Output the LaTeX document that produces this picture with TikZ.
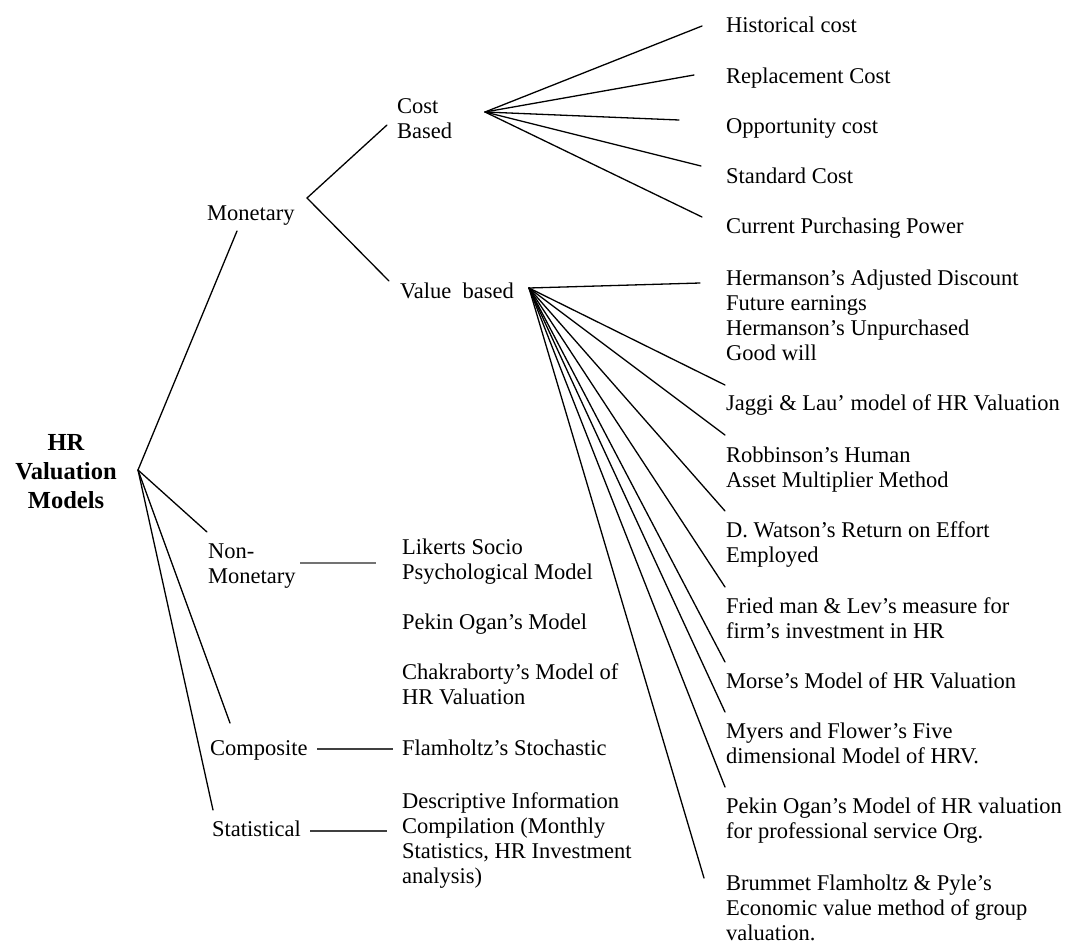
\documentclass[tikz,border=0pt]{standalone}
\usepackage{fontspec}
\setmainfont{Liberation Serif}
\begin{document}
\begin{tikzpicture}[x=1pt,y=-1pt,
  % multi-line labels are placed by the baseline of their last line
  lbl/.style={anchor=base west, inner sep=0pt, align=left,
    font=\fontsize{22.5}{25}\selectfont},
  rootlbl/.style={anchor=base, inner sep=0pt, align=center,
    font=\fontsize{24.5}{29}\selectfont\bfseries},
  link/.style={line width=1.3pt, line cap=round},
  tie/.style={line width=1.1pt, black!75},
  lighttie/.style={line width=1.1pt, black!55}]
\useasboundingbox (0,0) rectangle (1067,940);

% ---- root ----
\node[rootlbl] (root) at (66,508) {HR\\Valuation\\Models};
\coordinate (r0) at (138,470);

% ---- first level ----
\node[lbl] (mon)    at (207,220) {Monetary};
\node[lbl] (nonmon) at (208,583) {Non-\\Monetary};
\node[lbl] (comp)   at (210,755) {Composite};
\node[lbl] (stat)   at (212,836) {Statistical};

\coordinate (mon-in)    at (237,231);
\coordinate (nonmon-in) at (207,532);
\coordinate (comp-in)   at (230,723);
\coordinate (stat-in)   at (213,810);

\draw[link] (r0) -- (mon-in);
\draw[link] (r0) -- (nonmon-in);
\draw[link] (r0) -- (comp-in);
\draw[link] (r0) -- (stat-in);

% ---- monetary split ----
\coordinate (m0) at (307,198);
\node[lbl] (cost)  at (397,138) {Cost\\Based};
\node[lbl] (value) at (400,298) {Value\ \ based};
\coordinate (cost-in)  at (387,125);
\coordinate (value-in) at (389,281);
\draw[link] (cost-in) -- (m0) -- (value-in);

% ---- cost based models ----
\coordinate (c0) at (485,112);
\node[lbl] (hist) at (726,32)  {Historical cost};
\node[lbl] (repl) at (726,83)  {Replacement Cost};
\node[lbl] (oppo) at (726,133) {Opportunity cost};
\node[lbl] (stnd) at (726,183) {Standard Cost};
\node[lbl] (curr) at (726,233) {Current Purchasing Power};
\coordinate (hist-in) at (702,26);
\coordinate (repl-in) at (694,75);
\coordinate (oppo-in) at (679,120);
\coordinate (stnd-in) at (701,166);
\coordinate (curr-in) at (702,217);
\foreach \t in {hist,repl,oppo,stnd,curr}
  \draw[link] (c0) -- (\t-in);

% ---- value based models ----
\coordinate (v0) at (529,288);
\node[lbl] (herm) at (726,360) {Hermanson’s Adjusted Discount\\Future earnings\\Hermanson’s Unpurchased\\Good will};
\node[lbl] (jagg) at (726,410) {Jaggi \& Lau’ model of HR Valuation};
\node[lbl] (robb) at (726,487) {Robbinson’s Human\\Asset Multiplier Method};
\node[lbl] (wats) at (726,562) {D. Watson’s Return on Effort\\Employed};
\node[lbl] (frie) at (726,638) {Fried man \& Lev’s measure for\\firm’s investment in HR};
\node[lbl] (mors) at (726,688) {Morse’s Model of HR Valuation};
\node[lbl] (myer) at (726,763) {Myers and Flower’s Five\\dimensional Model of HRV.};
\node[lbl] (peko) at (726,838) {Pekin Ogan’s Model of HR valuation\\for professional service Org.};
\node[lbl] (brum) at (726,940) {Brummet Flamholtz \& Pyle’s\\Economic value method of group\\valuation.};
\coordinate (herm-in) at (700,283);
\coordinate (jagg-in) at (725,385);
\coordinate (robb-in) at (725,435);
\coordinate (wats-in) at (725,511);
\coordinate (frie-in) at (725,587);
\coordinate (mors-in) at (725,662);
\coordinate (myer-in) at (725,712);
\coordinate (peko-in) at (725,787);
\coordinate (brum-in) at (704,878);
\foreach \t in {herm,jagg,robb,wats,frie,mors,myer,peko,brum}
  \draw[link] (v0) -- (\t-in);

% ---- non-monetary, composite, statistical ----
\node[lbl] (like) at (402,579) {Likerts Socio\\Psychological Model};
\node[lbl] (pkom) at (402,629) {Pekin Ogan’s Model};
\node[lbl] (chak) at (402,704) {Chakraborty’s Model of\\HR Valuation};
\node[lbl] (flam) at (402,755) {Flamholtz’s Stochastic};
\node[lbl] (desc) at (402,883) {Descriptive Information\\Compilation (Monthly\\Statistics, HR Investment\\analysis)};

\coordinate (nonmon-out) at (300,563);
\coordinate (like-in)    at (376,563);
\coordinate (comp-out)   at (317,749);
\coordinate (flam-in)    at (393,749);
\coordinate (stat-out)   at (310,831);
\coordinate (desc-in)    at (387,831);
\draw[lighttie] (nonmon-out) -- (like-in);
\draw[tie] (comp-out) -- (flam-in);
\draw[tie] (stat-out) -- (desc-in);
\end{tikzpicture}
\end{document}
